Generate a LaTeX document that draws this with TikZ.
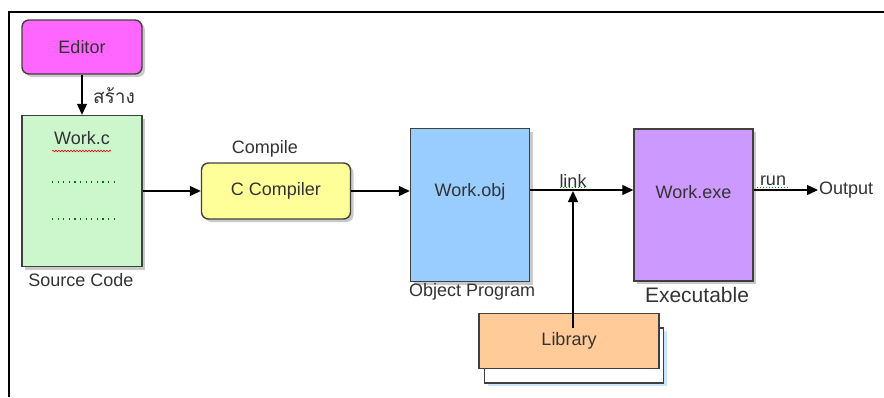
\documentclass[tikz,border=0pt]{standalone}
\usepackage{fontspec}
\setmainfont{Liberation Sans}
\newfontfamily\thaifont[Script=Thai]{Loma}
\usetikzlibrary{shadows,arrows.meta,decorations.pathmorphing}
\definecolor{edfill}{HTML}{FF66FF}
\definecolor{wcfill}{HTML}{CCF7CC}
\definecolor{ccfill}{HTML}{FFFF99}
\definecolor{obfill}{HTML}{99CCFF}
\definecolor{exfill}{HTML}{CC99FF}
\definecolor{libfill}{HTML}{FFCC99}
\definecolor{boxline}{HTML}{404040}
\definecolor{txt}{HTML}{333333}
\tikzset{
  shad/.style={drop shadow={shadow xshift=3pt,shadow yshift=-3pt,fill=black!35,opacity=0.6}},
  boxbase/.style={draw=boxline,line width=1.4pt,shad,font=\fontsize{18}{21}\selectfont,text=txt},
  rbox/.style={boxbase,rounded corners=7pt},
  sbox/.style={boxbase},
  lbl/.style={font=\fontsize{18}{21}\selectfont,text=txt,inner sep=1pt},
  arr/.style={line width=1.3pt,-{Triangle[length=11pt,width=10pt]}},
  dots/.style={green!45!black,line width=1.1pt,dash pattern=on 1.1pt off 4.5pt},
}
\begin{document}
\begin{tikzpicture}[x=1pt,y=-1pt]
\useasboundingbox (0,0) rectangle (884,397);
\draw[line width=1.6pt] (9,397) -- (9,12) -- (884,12);

% Boxes
\node[rbox,fill=edfill,minimum width=120pt,minimum height=54pt] (ed) at (82,47) {Editor};
\node[sbox,fill=wcfill,minimum width=120pt,minimum height=151pt] (wc) at (82,191) {};
\node[lbl] (wct) at (82,138) {Work.c};
\draw[dots] (52,182) -- (115,182);
\draw[dots] (52,219) -- (115,219);
\draw[red,line width=0.6pt,decorate,decoration={snake,amplitude=0.8pt,segment length=3pt}] (52,151) -- (111,151);
\node[rbox,fill=ccfill,minimum width=149pt,minimum height=56pt] (cc) at (276,191) {C Compiler};
\node[sbox,fill=obfill,minimum width=119pt,minimum height=153pt] (ob) at (470,205) {};
\node[lbl] (obt) at (470,192) {Work.obj};
\node[sbox,fill=exfill,minimum width=119pt,minimum height=152pt] (ex) at (693.5,205) {};
\node[lbl] (ext) at (693.5,192) {Work.exe};
\node[draw=boxline,line width=1.2pt,fill=white,minimum width=179pt,minimum height=55pt,
      drop shadow={shadow xshift=3pt,shadow yshift=-3pt,fill=obfill}] (lib2) at (574,355.5) {};
\node[draw=boxline,line width=1.2pt,fill=libfill,minimum width=180pt,minimum height=55pt,
      font=\fontsize{18}{21}\selectfont,text=txt] (lib) at (569,341) {Library};

% Labels
\node[lbl] (src) at (81,280) {Source Code};
\node[lbl] (cmp) at (265,149) {Compile};
\node[lbl,anchor=west] (obp) at (408,292) {Object Program};
\node[lbl,font=\fontsize{21}{24}\selectfont] (exl) at (697,295) {Executable};
\node[lbl,font=\thaifont\fontsize{19}{22}\selectfont] (thai) at (114,96) {สร้าง};
\node[lbl] (lnk) at (573,181) {link};
\node[lbl] (run) at (773,181) {run};
\node[lbl,anchor=west] (out) at (818,190) {Output};
\coordinate (lk) at (573,190);
\coordinate (lb) at (573,328);

% Connectors
\draw[arr] (ed.south) -- (wc.north);
\draw[arr] (wc.east |- cc.west) -- (cc.west);
\draw[arr] (cc.east) -- (cc.east -| ob.west);
\draw[arr] (ob.east |- lk) -- (ex.west |- lk);
\draw[arr] (lb) -- ([yshift=-1pt]lk);
\draw[arr] (ex.east |- lk) -- (out.west);
\draw[green!60!black,line width=1pt,dotted] (560,187.5) -- (586,187.5);
\draw[green!60!black,line width=1pt,dotted] (757,187.5) -- (789,187.5);
\end{tikzpicture}
\end{document}
